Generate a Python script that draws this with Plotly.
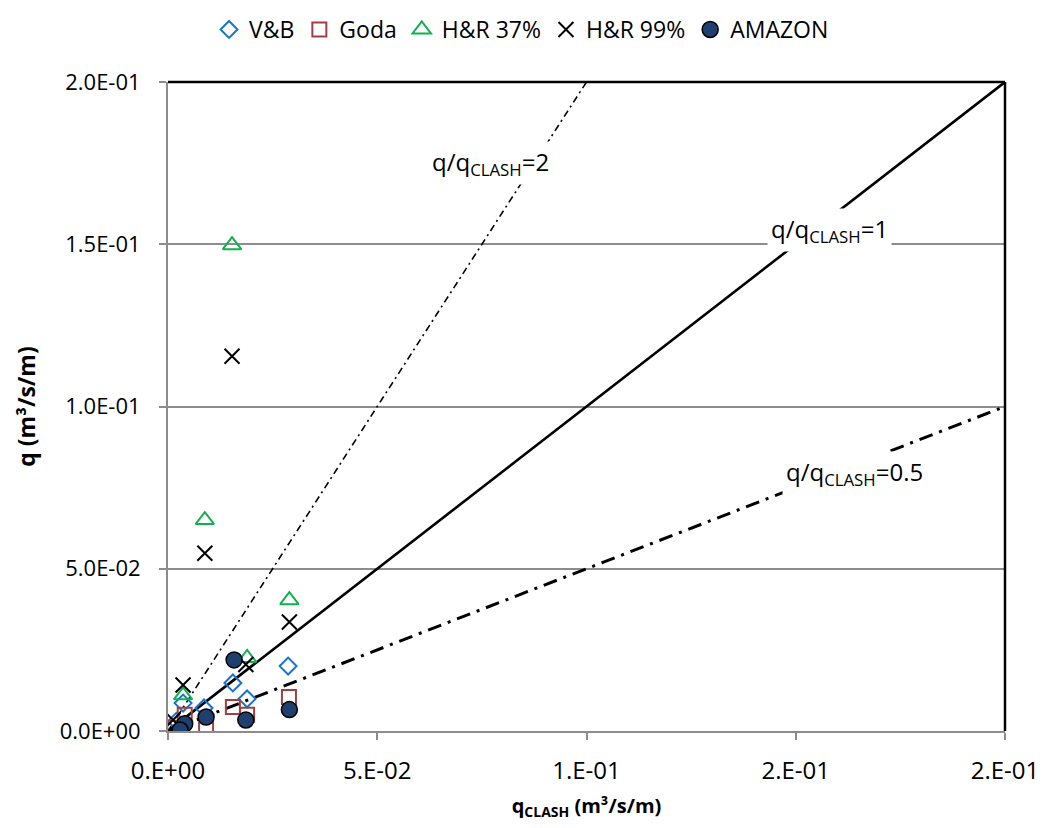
import plotly.graph_objects as go

# ---- data ----
vb_x = [0.0036, 0.0086, 0.0155, 0.0189, 0.0287, 0.0020]
vb_y = [0.0086, 0.0071, 0.0148, 0.0099, 0.0200, 0.0030]

goda_x = [0.0040, 0.0091, 0.0155, 0.0189, 0.0289, 0.0015]
goda_y = [0.0050, 0.0015, 0.0074, 0.0050, 0.0105, 0.0010]

hr37_x = [0.0036, 0.0088, 0.0153, 0.0189, 0.0290, 0.0030]
hr37_y = [0.0110, 0.0650, 0.1497, 0.0225, 0.0403, 0.0000]

hr99_x = [0.0036, 0.0088, 0.0153, 0.0186, 0.0290, 0.0012]
hr99_y = [0.0142, 0.0548, 0.1155, 0.0205, 0.0336, 0.0034]

amz_x = [0.0040, 0.0091, 0.0158, 0.0186, 0.0290, 0.0029]
amz_y = [0.0022, 0.0043, 0.0219, 0.0034, 0.0066, 0.0003]

ratios = [2, 1, 0.5]
ratio_labels = ["q/q<sub>CLASH</sub>=2", "q/q<sub>CLASH</sub>=1", "q/q<sub>CLASH</sub>=0.5"]
label_pos_x = [0.077, 0.158, 0.164]
label_pos_y = [0.175, 0.1545, 0.0795]

axis_max = 0.2
x_tickvals = [0, 0.05, 0.1, 0.15, 0.2]
x_ticktext = ["0.E+00", "5.E-02", "1.E-01", "2.E-01", "2.E-01"]
y_tickvals = [0, 0.05, 0.1, 0.15, 0.2]
y_ticktext = ["0.0E+00", "5.0E-02", "1.0E-01", "1.5E-01", "2.0E-01"]

FONT = "Open Sans"
fig = go.Figure()

# ratio lines
line_styles = [
    dict(color="black", width=1.6, dash="7px,4px,2px,4px"),
    dict(color="black", width=2.6, dash="solid"),
    dict(color="black", width=3, dash="14px,7px,3px,7px"),
]
for r, st in zip(ratios, line_styles):
    xe = min(axis_max, axis_max / r)
    fig.add_trace(go.Scatter(x=[0, xe], y=[0, r * xe], mode="lines", line=st,
                             showlegend=False, hoverinfo="skip"))

fig.add_trace(go.Scatter(x=vb_x, y=vb_y, mode="markers", name="V&B",
                         marker=dict(symbol="diamond-open", size=13, color="#1874CD",
                                     line=dict(width=2, color="#1874CD"))))
fig.add_trace(go.Scatter(x=goda_x, y=goda_y, mode="markers", name="Goda",
                         marker=dict(symbol="square-open", size=14, color="#A0413F",
                                     line=dict(width=2, color="#A0413F"))))
fig.add_trace(go.Scatter(x=hr37_x, y=hr37_y, mode="markers", name="H&R 37%",
                         marker=dict(symbol="triangle-up-open", size=16, color="#12B050",
                                     line=dict(width=2, color="#12B050"))))
fig.add_trace(go.Scatter(x=hr99_x, y=hr99_y, mode="markers", name="H&R 99%",
                         marker=dict(symbol="x-thin-open", size=15, color="black",
                                     line=dict(width=2, color="black"))))
fig.add_trace(go.Scatter(x=amz_x, y=amz_y, mode="markers", name="AMAZON",
                         marker=dict(symbol="circle", size=16, color="#1F3F6E",
                                     line=dict(width=1.5, color="black"))))

for txt, lx, ly in zip(ratio_labels, label_pos_x, label_pos_y):
    fig.add_annotation(x=lx, y=ly, text=txt, showarrow=False,
                       font=dict(family=FONT, size=24, color="black"),
                       bgcolor="white", borderpad=3)

# top/right black frame
fig.add_shape(type="line", xref="paper", yref="paper", x0=0, x1=1, y0=1, y1=1,
              line=dict(color="black", width=2.5))
fig.add_shape(type="line", xref="paper", yref="paper", x0=1, x1=1, y0=0, y1=1,
              line=dict(color="black", width=2.5))

fig.update_layout(
    width=1048, height=828,
    margin=dict(l=160, r=51, t=74, b=105),
    plot_bgcolor="white", paper_bgcolor="white",
    font=dict(family=FONT, size=20, color="black"),
    legend=dict(orientation="h", xref="container", yref="container",
                x=0.49, xanchor="center", y=1.0, yanchor="top",
                font=dict(family=FONT, size=23), itemwidth=30,
                traceorder="normal"),
    xaxis=dict(range=[0, axis_max], tickvals=x_tickvals, ticktext=x_ticktext,
               showgrid=False, zeroline=False, showline=True, linecolor="#8C8C8C",
               linewidth=2, ticks="outside", ticklen=7, tickcolor="#8C8C8C", tickwidth=2,
               ticklabelstandoff=10,
               tickfont=dict(family=FONT, size=24),
               title=dict(text="<b>q<sub>CLASH</sub> (m³/s/m)</b>", font=dict(family=FONT, size=20),
                          standoff=14)),
    yaxis=dict(range=[0, axis_max], tickvals=y_tickvals, ticktext=y_ticktext,
               showgrid=True, gridcolor="#8C8C8C", gridwidth=2, zeroline=False,
               showline=True, linecolor="#8C8C8C", linewidth=2, ticks="outside",
               ticklen=7, tickcolor="#8C8C8C", tickwidth=2,
               ticklabelstandoff=14,
               tickfont=dict(family=FONT, size=22),
               title=dict(text="<b>q (m³/s/m)</b>", font=dict(family=FONT, size=23),
                          standoff=18)),
)

fig.write_html("out.html")
